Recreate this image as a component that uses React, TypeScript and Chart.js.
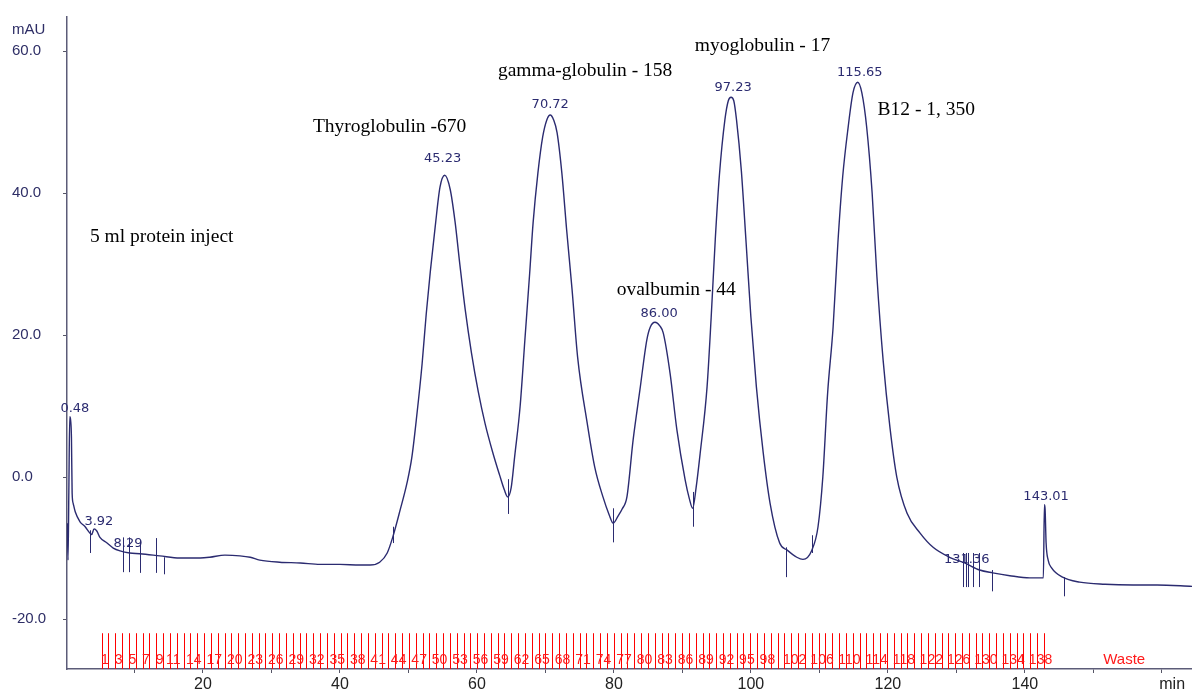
import React, { useEffect, useRef } from "react";
import { Chart, registerables } from "chart.js";

Chart.register(...registerables);

// ---- chromatogram trace (retention time in min, absorbance in mAU) ----
const timeMin = [
  0.2, 0.3, 0.42, 0.55, 0.68, 0.8, 0.9, 1.05, 1.35, 2.05, 2.8, 3.5, 3.75, 4.1, 4.5, 4.96,
  6.0, 6.9, 7.9, 9.3, 10.8, 13.7, 16.6, 19.6, 21.0, 23.2, 25.4, 26.9, 28.3, 31.2, 34.2,
  37.1, 40.0, 42.9, 44.4, 45.8, 46.9, 47.7, 48.8, 49.8, 50.5, 51.2, 52.0, 52.6, 53.2,
  53.9, 54.6, 55.3, 56.1, 56.8, 57.5, 58.3, 59.2, 60.2, 61.2, 62.3, 63.3, 64.0, 64.5,
  65.0, 65.5, 66.3, 67.0, 67.7, 68.2, 68.9, 69.6, 70.2, 70.7, 71.2, 71.7, 72.4, 73.1,
  73.9, 74.7, 76.1, 77.2, 78.4, 79.3, 79.9, 80.6, 81.2, 81.9, 82.8, 83.8, 84.8, 85.3,
  86.0, 86.7, 87.2, 88.2, 89.2, 90.4, 91.0, 91.5, 92.0, 92.6, 93.6, 94.2, 94.8, 95.4,
  96.2, 96.7, 97.1, 97.5, 97.9, 98.6, 99.3, 100.0, 100.8, 101.8, 102.8, 104.2, 105.3,
  106.7, 107.6, 108.9, 109.8, 110.5, 111.2, 112.0, 112.7, 113.4, 114.2, 114.9, 115.6,
  116.2, 116.9, 117.7, 118.4, 119.3, 120.3, 121.3, 122.8, 124.7, 126.6, 129.0, 131.2,
  133.4, 135.3, 137.8, 140.7, 142.7, 142.85, 142.95, 143.1, 143.4, 143.9, 145.5, 148.0,
  151.7, 155.8, 159.3, 164.4,
];
const absorbance = [
  -6.5, -11.7, -2.0, 8.5, 8.0, 5.5, -2.3, -3.7, -4.9, -6.3, -7.0, -7.9, -8.1, -7.3, -7.6, -8.5,
  -9.3, -10.0, -10.4, -10.7, -10.8, -11.1, -11.4, -11.4, -11.3, -11.0, -11.1, -11.3, -11.7, -12.0, -12.1,
  -12.3, -12.3, -12.4, -12.4, -12.0, -10.7, -8.5, -4.6, -0.8, 2.8, 8.5, 16.0, 23.0, 29.0,
  35.2, 40.8, 42.5, 40.5, 36.0, 30.0, 23.5, 17.5, 12.0, 7.5, 3.5, 0.3, -1.8, -2.8,
  -1.5, 2.8, 9.9, 19.3, 28.7, 35.8, 42.8, 47.9, 50.3, 51.0, 50.3, 48.5, 42.8, 34.8,
  26.3, 16.9, 7.6, 1.4, -2.8, -5.3, -6.5, -5.5, -4.5, -2.8, 5.2, 12.3, 19.3, 21.1,
  21.8, 21.3, 20.3, 14.6, 6.6, -0.4, -3.0, -4.4, -1.5, 3.4, 12.7, 22.5, 33.5, 42.5,
  50.3, 53.0, 53.5, 53.0, 50.3, 43.2, 33.0, 22.5, 12.7, 3.4, -3.7, -9.3, -10.3,
  -11.3, -11.6, -10.3, -7.0, 0.0, 11.8, 21.1, 33.0, 42.3, 49.3, 54.1, 55.6,
  54.1, 49.3, 40.0, 28.2, 16.5, 7.0, 0.0, -5.1, -7.9, -9.9, -11.3, -12.1,
  -13.1, -13.5, -13.9, -14.2, -14.2, -3.9, -4.5, -9.3, -11.7, -12.8, -14.1, -14.8,
  -15.1, -15.2, -15.2, -15.4,
];

// ---- integration event marks (time, top value, bottom value) ----
const markTime = [3.5, 8.3, 9.2, 10.8, 13.1, 14.3, 47.7, 64.5, 79.9, 91.5, 105.1, 108.9, 130.9, 131.4, 131.7, 132.4, 133.3, 135.2, 145.7];
const markTop = [-7.5, -8.5, -8.5, -8.9, -8.6, -11.3, -7.0, -0.3, -4.4, -2.1, -9.9, -8.2, -10.7, -10.7, -10.7, -10.7, -10.7, -13.1, -14.1];
const markBottom = [-10.7, -13.4, -13.4, -13.5, -13.5, -13.7, -9.3, -5.2, -9.2, -7.0, -14.1, -10.7, -15.5, -15.5, -15.5, -15.5, -15.5, -16.1, -16.8];

// ---- peak labels ----
const peakLabels = ["0.48", "3.92", "8.29", "45.23", "70.72", "86.00", "97.23", "115.65", "131.36", "143.01"];
const peakLabelTime = [1.3, 4.8, 9.05, 55.0, 70.7, 86.6, 97.4, 115.9, 131.5, 143.1];
const peakLabelValue = [9.6, -6.3, -9.4, 44.9, 52.4, 23.0, 54.9, 56.9, -11.7, -2.8];

// ---- annotations ----
const noteText = ["Thyroglobulin -670", "gamma-globulin - 158", "myoglobulin - 17", "B12 - 1, 350", "ovalbumin - 44", "5 ml protein inject"];
const noteTime = [36.06, 63.07, 91.8, 118.5, 80.4, 3.5];
const noteValue = [49.3, 57.2, 60.8, 51.7, 26.3, 33.8];

// ---- fraction collector ----
const fractionStart = 5.2;
const fractionWidth = 0.997;
const fractionCount = 138;
const fractionLabels = [
  1, 3, 5, 7, 9, 11, 14, 17, 20, 23, 26, 29, 32, 35, 38, 41, 44, 47, 50, 53, 56, 59, 62, 65,
  68, 71, 74, 77, 80, 83, 86, 89, 92, 95, 98, 102, 106, 110, 114, 118, 122, 126, 130, 134, 138,
];
const wasteLabel = "Waste";
const wasteTime = 154.5;

// ---- axes ----
const xTickLabels = [20, 40, 60, 80, 100, 120, 140];
const xUnit = "min";
const yUnit = "mAU";

const NAVY = "#2b2b70";
const SANS = '"Liberation Sans", Arial, sans-serif';
const SERIF = '"Liberation Serif", "Times New Roman", serif';
const DEJAVU = '"DejaVu Sans", Verdana, sans-serif';

const overlayPlugin = {
  id: "overlay",
  afterDatasetsDraw(chart: any) {
    const { ctx, chartArea } = chart;
    const x = chart.scales.x;
    const y = chart.scales.y;
    ctx.save();

    // fraction lines
    ctx.strokeStyle = "#ff0000";
    ctx.lineWidth = 1;
    const yTop = y.getPixelForValue(-22);
    for (let i = 0; i <= fractionCount; i++) {
      const px = Math.round(x.getPixelForValue(fractionStart + i * fractionWidth)) + 0.5;
      ctx.beginPath();
      ctx.moveTo(px, yTop);
      ctx.lineTo(px, chartArea.bottom);
      ctx.stroke();
    }
    ctx.fillStyle = "#ff1a1a";
    ctx.font = `14px ${SANS}`;
    ctx.textAlign = "center";
    ctx.textBaseline = "middle";
    const yLab = y.getPixelForValue(-25.8);
    fractionLabels.forEach((n) => {
      const px = x.getPixelForValue(fractionStart + (n - 0.5) * fractionWidth);
      ctx.fillText(String(n), px, yLab);
    });
    ctx.font = `15px ${SANS}`;
    ctx.fillText(wasteLabel, x.getPixelForValue(wasteTime), yLab);

    // integration marks
    ctx.strokeStyle = NAVY;
    ctx.lineWidth = 1;
    markTime.forEach((t, i) => {
      const px = Math.round(x.getPixelForValue(t)) + 0.5;
      ctx.beginPath();
      ctx.moveTo(px, y.getPixelForValue(markTop[i]));
      ctx.lineTo(px, y.getPixelForValue(markBottom[i]));
      ctx.stroke();
    });

    // peak labels
    ctx.fillStyle = NAVY;
    ctx.font = `13px ${DEJAVU}`;
    ctx.textAlign = "center";
    peakLabels.forEach((s, i) => {
      ctx.fillText(s, x.getPixelForValue(peakLabelTime[i]), y.getPixelForValue(peakLabelValue[i]));
    });

    // annotations
    ctx.fillStyle = "#000";
    ctx.font = `19.5px ${SERIF}`;
    ctx.textAlign = "left";
    noteText.forEach((s, i) => {
      ctx.fillText(s, x.getPixelForValue(noteTime[i]), y.getPixelForValue(noteValue[i]));
    });

    // unit labels
    ctx.fillStyle = "#2e2e66";
    ctx.font = `15px ${SANS}`;
    ctx.textAlign = "left";
    ctx.fillText(yUnit, 12, chartArea.top + 13);
    ctx.fillStyle = "#222";
    ctx.font = `16px ${SANS}`;
    ctx.textAlign = "center";
    ctx.fillText(xUnit, x.getPixelForValue(161.5), chartArea.bottom + 16);
    ctx.restore();
  },
};

export default function App() {
  const ref = useRef<HTMLCanvasElement>(null);
  useEffect(() => {
    document.body.style.margin = "0";
    const points = timeMin.map((t, i) => ({ x: t, y: absorbance[i] }));
    const axisCommon = {
      grid: { display: true, drawOnChartArea: false, drawTicks: true, tickLength: 4, color: "#555566" },
      border: { display: true, color: "#5c5c78", width: 1.5 },
    };
    const chart = new Chart(ref.current as HTMLCanvasElement, {
      type: "line",
      data: {
        datasets: [
          {
            data: points,
            borderColor: NAVY,
            borderWidth: 1.4,
            pointRadius: 0,
            cubicInterpolationMode: "monotone",
            fill: false,
          },
        ],
      },
      options: {
        animation: false,
        responsive: false,
        layout: { padding: { left: 12, top: 17, right: 0, bottom: 0 } },
        plugins: { legend: { display: false }, tooltip: { enabled: false } },
        scales: {
          x: {
            type: "linear",
            min: 0.15,
            max: 164.4,
            ...axisCommon,
            afterFit: (s: any) => {
              s.height = 22;
            },
            ticks: {
              stepSize: 10,
              includeBounds: false,
              autoSkip: false,
              maxRotation: 0,
              padding: 2,
              color: "#222",
              font: { family: SANS, size: 16 },
              callback: (v: any) => (xTickLabels.includes(Number(v)) ? String(v) : ""),
            },
          },
          y: {
            type: "linear",
            min: -27.04,
            max: 64.8,
            ...axisCommon,
            afterFit: (s: any) => {
              s.width = 55;
            },
            ticks: {
              stepSize: 20,
              includeBounds: false,
              crossAlign: "far",
              color: "#2e2e66",
              font: { family: SANS, size: 15 },
              callback: (v: any) => Number(v).toFixed(1),
            },
          },
        },
      } as any,
      plugins: [overlayPlugin],
    });
    return () => chart.destroy();
  }, []);
  return (
    <div style={{ width: 1192, height: 691 }}>
      <canvas ref={ref} width={1192} height={691} style={{ display: "block" }} />
    </div>
  );
}
